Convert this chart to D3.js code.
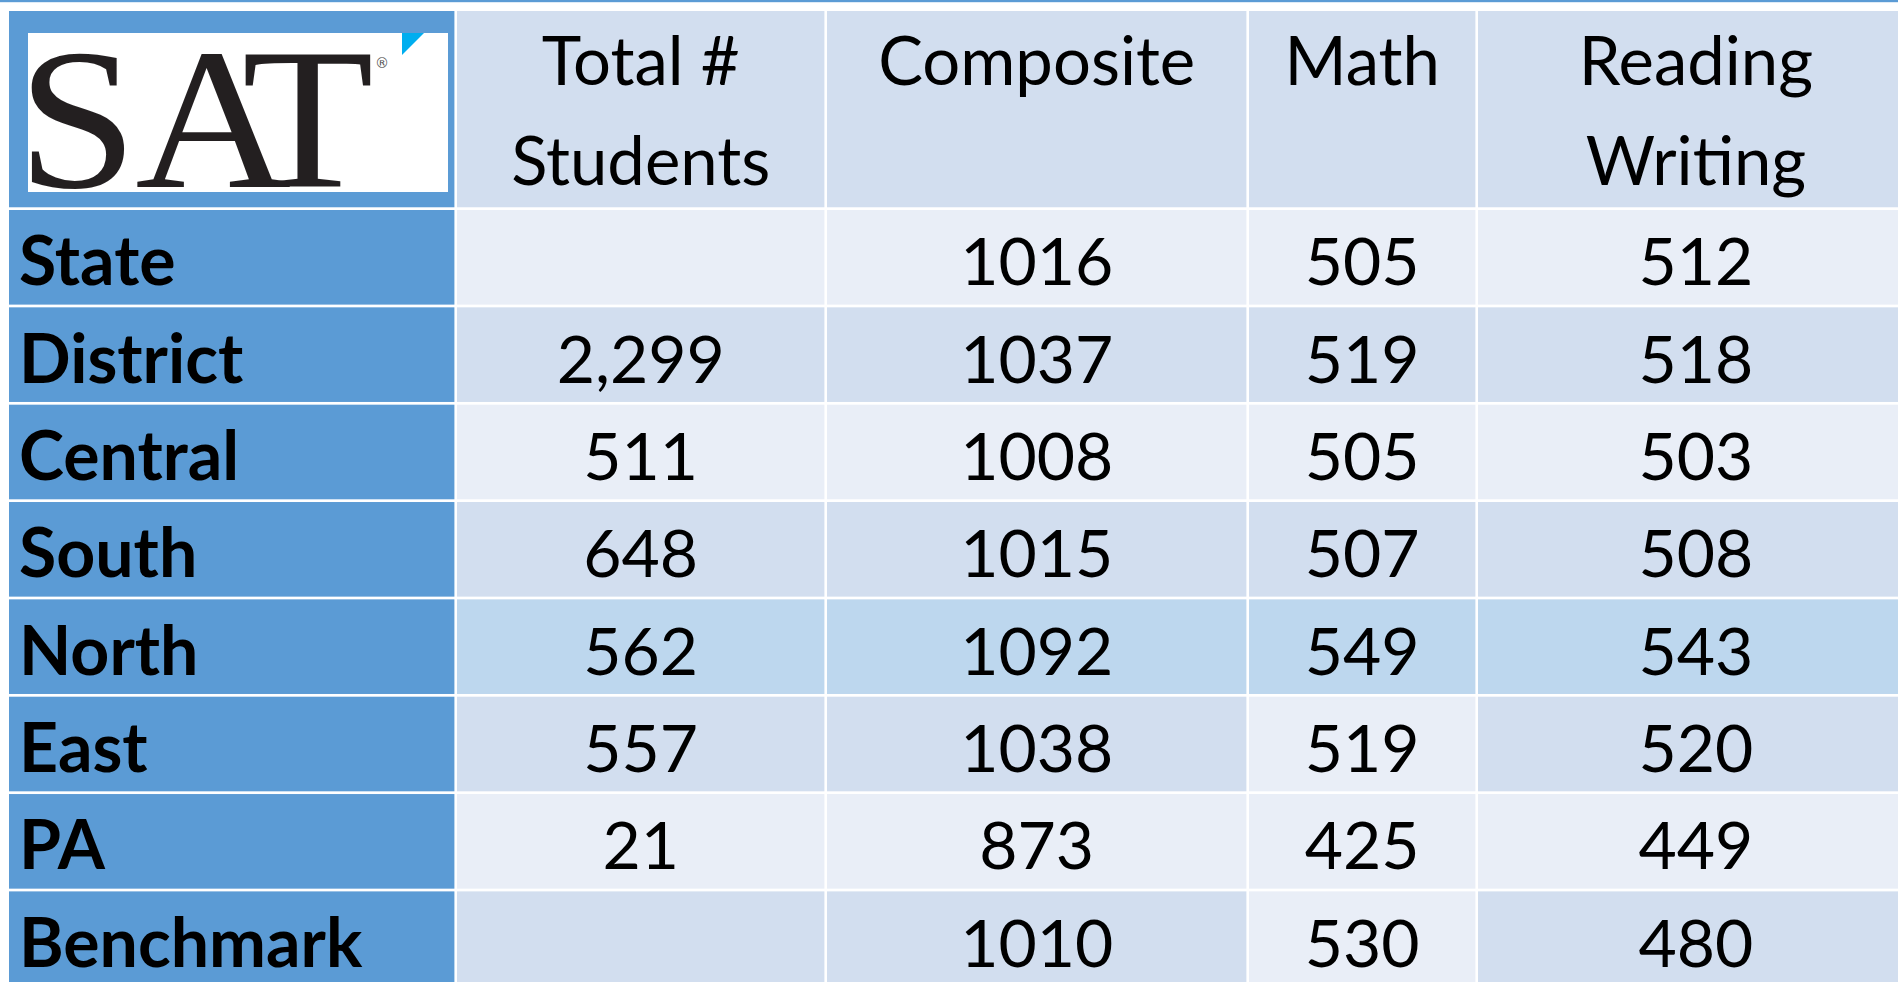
<!DOCTYPE html>
<html>
<head>
<meta charset="utf-8">
<script src="https://cdn.jsdelivr.net/npm/d3@7"></script>
<style>
  html, body { margin: 0; padding: 0; background: #fff; overflow: hidden; }
</style>
</head>
<body>
<div id="chart"></div>
<script>
// table data
const rowNames = ['State', 'District', 'Central', 'South', 'North', 'East', 'PA', 'Benchmark'];
const totalStudents = [null, 2299, 511, 648, 562, 557, 21, null];
const composite = [1016, 1037, 1008, 1015, 1092, 1038, 873, 1010];
const math = [505, 519, 505, 507, 549, 519, 425, 530];
const readingWriting = [512, 518, 503, 508, 543, 520, 449, 480];
const headerLines = [['Total #', 'Students'], ['Composite'], ['Math'], ['Reading', 'Writing']];

// cell shading per row (L light, M medium, N highlighted)
const cellShade = ['LLLL', 'MMMM', 'LLLL', 'MMMM', 'NNNN', 'MMLM', 'LLLL', 'MMLM'];
const shadeColor = { L: '#e9eef7', M: '#d2deef', N: '#bdd7ee' };
const labelBlue = '#5b9bd5';

const width = 1898;
const height = 982;
const gap = 2.6;
const fontSize = 66;
const labelSize = 68;

const colKeys = ['label', 'total', 'composite', 'math', 'reading'];
const valueCols = [totalStudents, composite, math, readingWriting];

// column edges (left edge of each column, and the next one's)
const xLeft = d3.scaleOrdinal().domain(colKeys).range([9, 457, 827, 1249, 1478]);
const xRight = d3.scaleOrdinal().domain(colKeys).range([457, 827, 1249, 1478, 1916.5]);
const colWidth = k => xRight(k) - xLeft(k) - gap;
const colCenter = k => xLeft(k) + colWidth(k) / 2;

const y = d3
  .scaleBand()
  .domain(rowNames)
  .range([210, 986])
  .paddingInner(0.028);

const headerTop = 11;
const headerBottom = y(rowNames[0]) - y.step() * y.paddingInner();

const fmt = d3.format(',');

const svg = d3
  .select('#chart')
  .append('svg')
  .attr('width', width)
  .attr('height', height)
  .style('display', 'block');

svg
  .append('rect')
  .attr('width', width)
  .attr('height', height)
  .attr('fill', '#fff');

// thin strip of the slide above the table
svg
  .append('rect')
  .attr('x', 0)
  .attr('y', 0)
  .attr('width', width)
  .attr('height', 2.2)
  .attr('fill', labelBlue);

// header row
svg
  .append('rect')
  .attr('x', xLeft('label'))
  .attr('y', headerTop)
  .attr('width', colWidth('label'))
  .attr('height', headerBottom - headerTop)
  .attr('fill', labelBlue);

const headerCells = svg
  .selectAll('.head')
  .data(headerLines)
  .enter()
  .append('g')
  .attr('class', 'head');

headerCells
  .append('rect')
  .attr('x', (d, i) => xLeft(colKeys[i + 1]))
  .attr('y', headerTop)
  .attr('width', (d, i) => colWidth(colKeys[i + 1]))
  .attr('height', headerBottom - headerTop)
  .attr('fill', shadeColor.M);

headerCells
  .selectAll('text')
  .data((d, i) => d.map(line => ({ line, col: colKeys[i + 1] })))
  .enter()
  .append('text')
  .attr('x', d => colCenter(d.col))
  .attr('y', (d, j) => headerTop + 74 + j * 100)
  .attr('text-anchor', 'middle')
  .style('font-family', 'Lato, "Open Sans", sans-serif')
  .style('font-size', '67px')
  .style('fill', '#000')
  .text(d => d.line);

// SAT logo in the corner cell
const logo = svg.append('g').attr('class', 'logo');

logo
  .append('rect')
  .attr('x', 28)
  .attr('y', 33)
  .attr('width', 420)
  .attr('height', 159)
  .attr('fill', '#fff');

logo
  .append('text')
  .attr('x', 18)
  .attr('y', 187)
  .attr('dx', '0 -2 -24')
  .attr('transform', 'translate(28,0) scale(1.07,1) translate(-28,0)')
  .style('font-family', '"Liberation Serif", "DejaVu Serif", serif')
  .style('font-size', '202px')
  .style('fill', '#231f20')
  .text('SAT');

logo
  .append('text')
  .attr('x', 382)
  .attr('y', 68)
  .attr('text-anchor', 'middle')
  .style('font-family', '"DejaVu Sans", sans-serif')
  .style('font-size', '14px')
  .style('fill', '#555')
  .text('®');

logo
  .append('path')
  .attr('d', 'M402,33 L424,33 L402,55 Z')
  .attr('fill', '#00aeef');

// body rows
const rows = svg
  .selectAll('.row')
  .data(rowNames)
  .enter()
  .append('g')
  .attr('class', 'row')
  .attr('transform', d => `translate(0, ${y(d)})`);

rows
  .append('rect')
  .attr('x', xLeft('label'))
  .attr('y', 0)
  .attr('width', colWidth('label'))
  .attr('height', y.bandwidth())
  .attr('fill', labelBlue);

rows
  .append('text')
  .attr('x', 19)
  .attr('y', y.bandwidth() / 2 + 28)
  .style('font-family', 'Lato, "Open Sans", sans-serif')
  .style('font-weight', 'bold')
  .style('font-size', labelSize + 'px')
  .style('fill', '#000')
  .text(d => d);

const cells = rows
  .selectAll('.cell')
  .data((d, r) =>
    valueCols.map((vals, c) => ({
      col: colKeys[c + 1],
      value: vals[r],
      shade: cellShade[r][c]
    }))
  )
  .enter()
  .append('g')
  .attr('class', 'cell');

cells
  .append('rect')
  .attr('x', d => xLeft(d.col))
  .attr('y', 0)
  .attr('width', d => colWidth(d.col))
  .attr('height', y.bandwidth())
  .attr('fill', d => shadeColor[d.shade]);

cells
  .append('text')
  .attr('x', d => colCenter(d.col))
  .attr('y', y.bandwidth() / 2 + 28)
  .attr('text-anchor', 'middle')
  .style('font-family', 'Lato, "Open Sans", sans-serif')
  .style('font-size', fontSize + 'px')
  .style('fill', '#000')
  .text(d => (d.value == null ? '' : d.col === 'total' ? fmt(d.value) : d.value));
</script>
</body>
</html>
